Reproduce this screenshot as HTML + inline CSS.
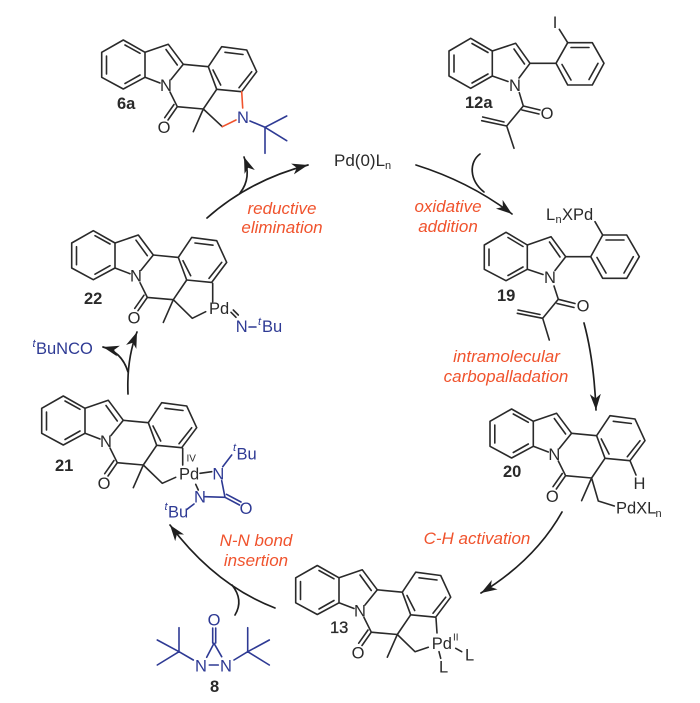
<!DOCTYPE html>
<html>
<head>
<meta charset="utf-8">
<style>
html,body{margin:0;padding:0;background:#fff;width:700px;height:703px;overflow:hidden}
svg{display:block}
text{font-family:"Liberation Sans",sans-serif;font-size:16.5px;fill:#2a2a2a}
.b{fill:#2e3a94}
.r{fill:#f0532d;font-style:italic;font-size:17px;text-anchor:middle}
.l{font-weight:bold;font-size:16.5px}
.s{font-size:11px}
.m{text-anchor:middle}
.k{stroke:#2a2a2a;stroke-width:1.6;fill:none;stroke-linecap:round;stroke-linejoin:round}
.bl{stroke:#2e3a94;stroke-width:1.6;fill:none;stroke-linecap:round}
.re{stroke:#f0532d;stroke-width:1.6;fill:none;stroke-linecap:round}
.a{stroke:#1f1f1f;stroke-width:1.7;fill:none;stroke-linecap:round}
</style>
</head>
<body>
<svg width="700" height="703" viewBox="0 0 700 703" xmlns="http://www.w3.org/2000/svg">
<defs>
<marker id="ah" markerUnits="userSpaceOnUse" markerWidth="18" markerHeight="14" refX="16" refY="6" orient="auto" viewBox="0 0 18 12">
<path d="M0,0.5 L16,6 L0,11.5 L4.5,6 Z" fill="#1f1f1f"/>
</marker>
<g id="core" class="k">
<path d="M11.7,32.3 L33.3,20 L55,32.3 L55,57.3 L33.3,69 L11.7,57.3 Z"/>
<path d="M16.5,36 V54 M35,25 L50,33.3 M35,63.5 L50,55"/>
<path d="M55,32.3 L78.3,24.3 L93.3,44.3 L81,59.5 M55,57.3 L70,63 M76,29.5 L87.3,45"/>
<path d="M93.3,44.3 L118.3,46.7 L131.7,26.7 L156.7,30 L166.7,51.7 L151.7,71.7 L126.7,69.3 L118.3,46.7"/>
<path d="M135,32.3 L153,34.5 M161.7,51.7 L149,67.7 M123,50 L130.7,65"/>
<path d="M80,72 L87.3,86.7 L113.3,89 L126.7,69.3 M113.3,89 L103.3,111.7"/>
<path d="M87.3,86.7 L78,100 M84,84.5 L74.7,97.7"/>
</g>
</defs>

<!-- 6a -->
<g transform="translate(90,20)">
<use href="#core"/>
<path class="k" d="M113.3,89 L132.3,106.7"/>
<path class="re" d="M132.3,106.7 L146,100 M151.7,71.7 L152.7,88"/>
<path class="bl" d="M160,101 L175,107.3 M175,107.3 L196.7,96 M175,107.3 L196.7,120.7 M175,107.3 V133.3"/>
<text x="76" y="71" class="m">N</text>
<text x="74" y="113" class="m">O</text>
<text x="153" y="103" class="m b">N</text>
</g>
<text x="117" y="109" class="l">6a</text>

<!-- 12a -->
<g transform="translate(430,0)">
<path class="k" d="M19,51 L40.7,38.3 L62.3,51 L62.3,76 L40.7,88.3 L19,76 Z"/>
<path class="k" d="M24,55 V72 M42,43.5 L58,52.5 M42,83 L58,74"/>
<path class="k" d="M62.3,51 L85.7,43.3 L100,63.3 L89,78 M62.3,76 L78,81.5 M84,49 L94.5,64"/>
<path class="k" d="M100,63.3 L126,63.3 L137.7,42.7 L162.3,42.7 L174,63.3 L162.3,85 L137.7,85 L126,63.3"/>
<path class="k" d="M141,47.5 L159,47.5 M168,63.3 L159,79.5 M141,80 L132,64.5 M129.3,29.3 L137.7,42.7"/>
<path class="k" d="M89.3,92.7 L93.3,106 L76.7,126 M93.3,106 L110,110 M92,110 L109,114 M76.7,126 L51.7,120.7 M74,122 L52.7,117 M76.7,126 L84,148.3"/>
<text x="85" y="91" class="m">N</text>
<text x="117" y="119" class="m">O</text>
<text x="125" y="28" class="m">I</text>
</g>
<text x="465" y="108" class="l">12a</text>

<!-- 19 -->
<g transform="translate(470,190)">
<path class="k" d="M14.3,55 L36,42.3 L57.3,55 L57.3,79.3 L36,90.7 L14.3,79.3 Z"/>
<path class="k" d="M19,59 V75.5 M38,47.5 L53,56.5 M38,85.5 L53,77"/>
<path class="k" d="M57.3,55 L81,46.7 L95.7,66.7 L85,80.5 M57.3,79.3 L73,84.5 M79.5,52 L90,67"/>
<path class="k" d="M95.7,66.7 L120.7,66.7 L132.7,45 L156.7,45 L169.3,66.7 L156.7,88.3 L132.7,88.3 L120.7,66.7"/>
<path class="k" d="M136,50 L154,50 M163.3,66.7 L154,83 M136,83 L127,67.5 M125,31.7 L132.7,45"/>
<path class="k" d="M84,96 L88.3,109.3 L72.7,128.3 M88.3,109.3 L105,113.5 M87,113.5 L104,117.5 M72.7,128.3 L47.3,123.3 M70,124.5 L48,120 M72.7,128.3 L79.3,150"/>
<text x="80" y="93" class="m">N</text>
<text x="113" y="121.5" class="m">O</text>
<text x="76" y="30">L</text>
<text x="85.5" y="33" class="s">n</text>
<text x="92" y="30">XPd</text>
</g>
<text x="497" y="301" class="l">19</text>

<!-- 22 -->
<g transform="translate(60,210.7)"><use href="#core"/>
<text x="76" y="71" class="m">N</text><text x="74" y="113" class="m">O</text>
<path class="k" d="M113.3,89 L132.3,107.6 L145.7,101 M152.7,72.6 V91"/></g>
<text x="209" y="314">Pd</text>
<path class="k" d="M231,312.3 L236,317.3 M233.3,310 L238.3,315"/>
<text x="235.7" y="332" class="b">N</text>
<path class="bl" d="M249,327 H256"/>
<text x="258" y="325" class="s b" style="font-style:italic">t</text>
<text x="262" y="332" class="b">Bu</text>
<text x="84" y="304" class="l">22</text>

<!-- tBuNCO -->
<text x="32.5" y="347" class="s b" style="font-style:italic">t</text>
<text x="36" y="354" class="b">BuNCO</text>

<!-- 21 -->
<g transform="translate(30,376)"><use href="#core"/>
<text x="76" y="71" class="m">N</text><text x="74" y="113" class="m">O</text>
<path class="k" d="M113.3,89 L132.3,107.3 L145.7,101.3 M152.7,72.3 V89"/></g>
<text x="179" y="479.3">Pd</text>
<text x="186.5" y="461.7" style="font-size:10px">IV</text>
<path class="k" d="M200,473.3 L211.7,471.7 M195.7,484.3 L198.3,490"/>
<text x="218.3" y="479.3" class="m b">N</text>
<text x="200" y="502.3" class="m b">N</text>
<path class="bl" d="M222.7,466.7 L231.7,455 M205,496.7 L225,497.3 M221.7,480.7 L225,497.3 M225,497.3 L239.5,505 M226.5,494.3 L241,502 M194,504 L187,509.3"/>
<text x="246" y="514" class="m b">O</text>
<text x="233" y="451" class="s b" style="font-style:italic">t</text>
<text x="236.5" y="459.3" class="b">Bu</text>
<text x="164.5" y="510" class="s b" style="font-style:italic">t</text>
<text x="168" y="517.3" class="b">Bu</text>
<text x="55" y="471" class="l">21</text>

<!-- 20 -->
<g transform="translate(478.3,389)"><use href="#core"/>
<text x="76" y="71" class="m">N</text><text x="74" y="113" class="m">O</text>
<path class="k" d="M113.3,89 L120,112 L136,117 M151.7,71.7 L157.7,86"/></g>
<text x="616" y="513.3">PdXL</text>
<text x="655.5" y="517" class="s">n</text>
<text x="639.5" y="489" class="m">H</text>
<text x="503" y="477" class="l">20</text>

<!-- 13 -->
<g transform="translate(284,545.5)"><use href="#core"/>
<text x="76" y="71" class="m">N</text><text x="74" y="113" class="m">O</text>
<path class="k" d="M113.3,89 L131,106.2 L144.3,101.8 M152,72.5 L153,87.5"/></g>
<text x="431.7" y="649">Pd</text>
<text x="453" y="640.7" style="font-size:10px">II</text>
<path class="k" d="M455.7,648.3 L461.7,651.7 M439,651.7 L440.7,658.3"/>
<text x="465" y="660.7">L</text>
<text x="439" y="672.3">L</text>
<text x="330" y="633" class="l" style="font-weight:normal;stroke:#2a2a2a;stroke-width:.3">13</text>

<!-- 8 -->
<text x="214" y="625.5" class="m b">O</text>
<path class="bl" d="M212.7,628 V643 M215.7,628 V643 M214,643.3 L206.7,657.3 M214,643.3 L221.7,656.7 M209.3,665 H218.3 M193.3,660 L179,651.7 M179,651.7 V627.7 M179,651.7 L157.3,640 M179,651.7 L157.3,665 M234,660 L247.7,651.7 M247.7,651.7 V627.7 M247.7,651.7 L269.3,640 M247.7,651.7 L269.3,665"/>
<text x="201" y="671.5" class="m b">N</text>
<text x="226" y="671.5" class="m b">N</text>
<text x="210" y="692" class="l">8</text>

<!-- Catalyst -->
<text x="334" y="166" style="font-size:17px">Pd(0)L</text>
<text x="385" y="169" class="s">n</text>

<!-- Arrows -->
<path class="a" d="M207,218 Q250,180 308,165" marker-end="url(#ah)"/>
<path class="a" d="M240,193 Q252,178 244,157" marker-end="url(#ah)"/>
<path class="a" d="M416,165 Q470,182 512,214" marker-end="url(#ah)"/>
<path class="a" d="M480,154 C469,162 469,180 484,192"/>
<path class="a" d="M584,323 Q594,360 596,410" marker-end="url(#ah)"/>
<path class="a" d="M562,512 Q535,560 481,593" marker-end="url(#ah)"/>
<path class="a" d="M275,608 Q215,585 170,525" marker-end="url(#ah)"/>
<path class="a" d="M232,585 Q244,600 235,615"/>
<path class="a" d="M128,394 C127,370 130,350 137,332" marker-end="url(#ah)"/>
<path class="a" d="M128,372 Q122,352 103,347" marker-end="url(#ah)"/>

<!-- Labels -->
<text x="282" y="214" class="r">reductive</text>
<text x="282" y="233" class="r">elimination</text>
<text x="448" y="212" class="r">oxidative</text>
<text x="448" y="232" class="r">addition</text>
<text x="506.5" y="362" class="r">intramolecular</text>
<text x="506" y="382" class="r">carbopalladation</text>
<text x="477" y="544" class="r">C-H activation</text>
<text x="256" y="546" class="r">N-N bond</text>
<text x="256" y="566" class="r">insertion</text>
</svg>
</body>
</html>
